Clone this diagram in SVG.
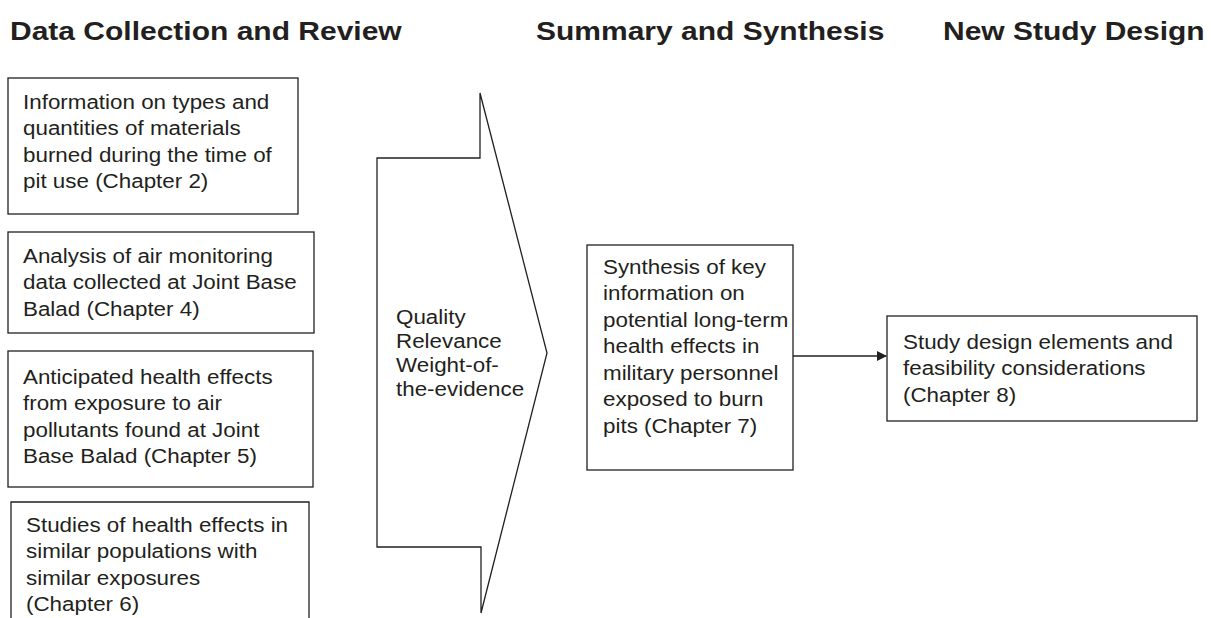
<svg xmlns="http://www.w3.org/2000/svg" width="1211" height="618" viewBox="0 0 1211 618">
<defs>
<style>
.h{font-family:"Liberation Sans",Arial,sans-serif;font-weight:bold;font-size:26px;fill:#231f20}
.t{font-family:"Liberation Sans",Arial,sans-serif;font-size:19.3px;fill:#231f20}
.b{fill:#fff;stroke:#231f20;stroke-width:1.3}
.c{fill:none;stroke:#231f20;stroke-width:1.3}
</style>
<marker id="ah" markerWidth="10" markerHeight="10" refX="9" refY="5" orient="auto" markerUnits="userSpaceOnUse">
<path d="M0,0 L10,5 L0,10 Z" fill="#231f20"/>
</marker>
</defs>
<rect width="1211" height="618" fill="#fff"/>
<g id="headers">
<text class="h" transform="translate(10,0) scale(1.154,1)" x="0" y="40">Data Collection and Review</text>
<text class="h" transform="translate(536,0) scale(1.154,1)" x="0" y="40">Summary and Synthesis</text>
<text class="h" transform="translate(943,0) scale(1.154,1)" x="0" y="40">New Study Design</text>
</g>
<g id="n1">
<rect class="b" x="8" y="78" width="290" height="136"/>
<text class="t" transform="translate(23,0) scale(1.16,1)"><tspan x="0" y="109">Information on types and</tspan><tspan x="0" y="135.5">quantities of materials</tspan><tspan x="0" y="162">burned during the time of</tspan><tspan x="0" y="188.5">pit use (Chapter 2)</tspan></text>
</g>
<g id="n2">
<rect class="b" x="8" y="232" width="306" height="101"/>
<text class="t" transform="translate(23,0) scale(1.16,1)"><tspan x="0" y="263">Analysis of air monitoring</tspan><tspan x="0" y="289.5">data collected at Joint Base</tspan><tspan x="0" y="316">Balad (Chapter 4)</tspan></text>
</g>
<g id="n3">
<rect class="b" x="8" y="351" width="305" height="136"/>
<text class="t" transform="translate(23,0) scale(1.16,1)"><tspan x="0" y="384">Anticipated health effects</tspan><tspan x="0" y="410.5">from exposure to air</tspan><tspan x="0" y="437">pollutants found at Joint</tspan><tspan x="0" y="463.5">Base Balad (Chapter 5)</tspan></text>
</g>
<g id="n4">
<path class="c" d="M11,622 V502 H309 V622"/>
<text class="t" transform="translate(26,0) scale(1.16,1)"><tspan x="0" y="532">Studies of health effects in</tspan><tspan x="0" y="558.5">similar populations with</tspan><tspan x="0" y="585">similar exposures</tspan><tspan x="0" y="611.5">(Chapter 6)</tspan></text>
</g>
<g id="n5">
<path class="b" d="M377,158 H480 V93 L547,353 L481,613 V547 H377 Z"/>
<text class="t" transform="translate(396,0) scale(1.16,1)"><tspan x="0" y="324">Quality</tspan><tspan x="0" y="348">Relevance</tspan><tspan x="0" y="372">Weight-of-</tspan><tspan x="0" y="396">the-evidence</tspan></text>
</g>
<g id="n6">
<rect class="b" x="587" y="245" width="206" height="225"/>
<text class="t" transform="translate(603,0) scale(1.16,1)"><tspan x="0" y="274">Synthesis of key</tspan><tspan x="0" y="300.5">information on</tspan><tspan x="0" y="327">potential long-term</tspan><tspan x="0" y="353.5">health effects in</tspan><tspan x="0" y="380">military personnel</tspan><tspan x="0" y="406.5">exposed to burn</tspan><tspan x="0" y="433">pits (Chapter 7)</tspan></text>
</g>
<g id="n7">
<rect class="b" x="887" y="316" width="310" height="105"/>
<text class="t" transform="translate(903,0) scale(1.16,1)"><tspan x="0" y="349">Study design elements and</tspan><tspan x="0" y="375.5">feasibility considerations</tspan><tspan x="0" y="402">(Chapter 8)</tspan></text>
</g>
<g id="connectors">
<line class="c" x1="793" y1="356" x2="886" y2="356" marker-end="url(#ah)"/>
</g>
</svg>
